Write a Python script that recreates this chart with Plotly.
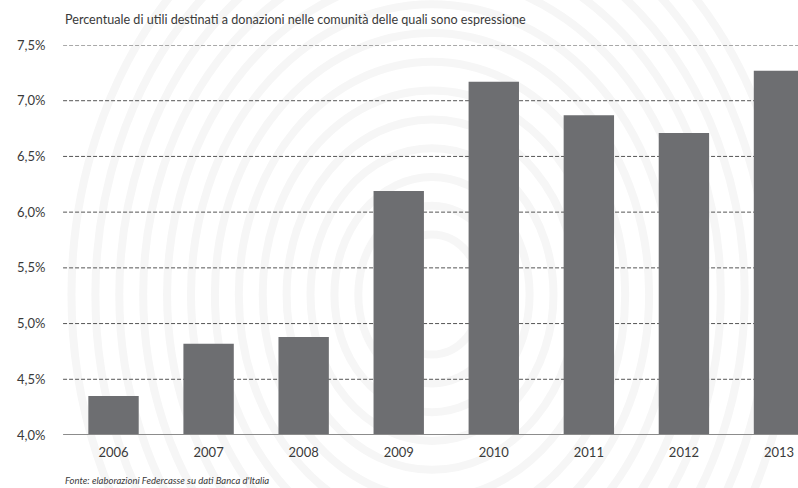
import plotly.graph_objects as go

# Share of profits donated to the local communities, by year
years = ["2006", "2007", "2008", "2009", "2010", "2011", "2012", "2013"]
donation_pct = [4.35, 4.82, 4.88, 6.19, 7.17, 6.87, 6.71, 7.27]
tick_vals = [4.0, 4.5, 5.0, 5.5, 6.0, 6.5, 7.0, 7.5]
tick_text = ["4,0%", "4,5%", "5,0%", "5,5%", "6,0%", "6,5%", "7,0%", "7,5%"]

title_text = "Percentuale di utili destinati a donazioni nelle comunità delle quali sono espressione"
source_text = "Fonte: elaborazioni Federcasse su dati Banca d'Italia"

FONT = "Lato"
TEXT_COLOR = "#3a3a3a"
BAR_COLOR = "#6d6e71"

fig = go.Figure()
fig.add_trace(go.Bar(
    x=list(range(len(years))),
    y=[v - 4.0 for v in donation_pct],
    base=4.0,
    marker=dict(color=BAR_COLOR, line=dict(width=0)),
    width=0.53,
    hoverinfo="skip",
))

# soft fingerprint-like watermark behind the plot
shapes = []
for r in range(50, 380, 24):
    shapes.append(dict(
        type="circle", xref="paper", yref="paper", layer="below",
        x0=0.50 - r / 735, x1=0.50 + r / 735,
        y0=0.36 - r * 1.2 / 390, y1=0.36 + r * 1.2 / 390,
        line=dict(color="#f6f6f6", width=8),
    ))

# dashed horizontal gridlines (above the 4,0% baseline)
for v in tick_vals[1:]:
    shapes.append(dict(
        type="line", xref="paper", yref="y", layer="below",
        x0=-0.004, x1=1, y0=v, y1=v,
        line=dict(color="#555555", width=1, dash="4px,2px"),
    ))
# solid baseline
shapes.append(dict(
    type="line", xref="paper", yref="y", layer="above",
    x0=-0.004, x1=1, y0=4.0, y1=4.0,
    line=dict(color="#8c8c8c", width=2),
))

fig.update_layout(
    width=798, height=488,
    margin=dict(l=66, r=0, t=45, b=53),
    paper_bgcolor="white", plot_bgcolor="rgba(0,0,0,0)",
    showlegend=False,
    font=dict(family=FONT, size=13, color=TEXT_COLOR),
    shapes=shapes,
    xaxis=dict(
        range=[-0.5, 7.2],
        tickmode="array", tickvals=list(range(len(years))), ticktext=years,
        showgrid=False, zeroline=False, showline=False,
        ticks="outside", ticklen=5, tickcolor="rgba(0,0,0,0)",
        tickfont=dict(size=13, color=TEXT_COLOR),
    ),
    yaxis=dict(
        range=[4.0, 7.5],
        tickmode="array", tickvals=tick_vals, ticktext=tick_text,
        showgrid=False, zeroline=False, showline=False,
        ticks="outside", ticklen=17, tickcolor="rgba(0,0,0,0)",
        tickfont=dict(size=13, color=TEXT_COLOR),
    ),
    annotations=[
        dict(text=title_text, xref="paper", yref="paper", x=-0.004, y=1,
             yshift=26, xanchor="left", yanchor="middle", showarrow=False,
             font=dict(family=FONT, size=12.6, color=TEXT_COLOR)),
        dict(text="<i>" + source_text + "</i>", xref="paper", yref="paper",
             x=-0.004, y=0, yshift=-45, xanchor="left", yanchor="middle",
             showarrow=False,
             font=dict(family=FONT, size=9.5, color=TEXT_COLOR)),
    ],
)

fig.write_html("out.html")
